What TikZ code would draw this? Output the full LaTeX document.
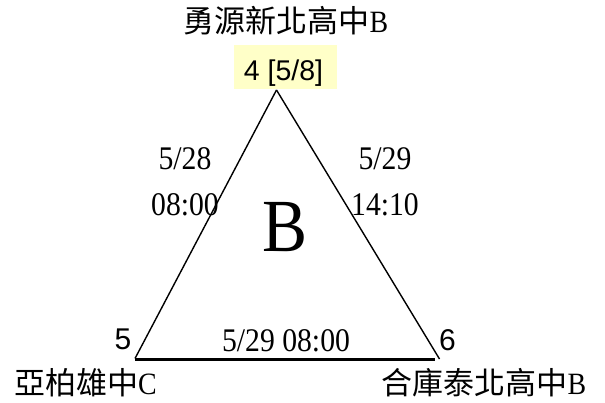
\documentclass[tikz,border=0pt]{standalone}
\usepackage{fontspec}
\setmainfont{Liberation Serif}[FakeStretch=0.9]
\newfontfamily\cjk{Noto Sans CJK TC}
\newfontfamily\sansf{Liberation Sans}
\definecolor{hiyellow}{RGB}{255,255,200}
\tikzset{
  lbl/.style={inner sep=0pt, anchor=base, font=\fontsize{33}{33}\selectfont},
  num/.style={inner sep=0pt, anchor=base, font=\sansf\fontsize{30}{30}\selectfont},
  team/.style={inner sep=0pt, anchor=base, font=\fontsize{31}{31}\selectfont},
  side/.style={line width=1.4pt},
  baseline/.style={line width=3pt},
}
\begin{document}
\begin{tikzpicture}[x=1pt,y=-1pt]
\useasboundingbox (0,0) rectangle (605,403);
% vertices
\coordinate (A) at (276.5,90);
\coordinate (L) at (135,358.5);
\coordinate (R) at (439.5,359);
\coordinate (BL) at (135,359);
\coordinate (BR) at (435,359);
% highlight box
\node[fill=hiyellow, inner sep=0pt, minimum width=103pt, minimum height=44pt] (hbox) at (285.5,67) {};
\node[inner sep=0pt, anchor=base, font=\sansf\fontsize{28.5}{28.5}\selectfont] (apexnum) at (283.5,81) {4 [5/8]};
% triangle
\draw[side] (A) -- (L);
\draw[side] (A) -- (R);
\draw[baseline] (BL) -- (BR);
% labels
\node[team] (top) at (286,33) {{\cjk 勇源新北高中}B};
\node[team] (bl) at (85.5,394) {{\cjk 亞柏雄中}C};
\node[team] (br) at (484,394) {{\cjk 合庫泰北高中}B};
\node[lbl] (d1) at (185,170) {5/28};
\node[lbl] (t1) at (185,216) {08:00};
\node[lbl] (d2) at (385,170) {5/29};
\node[lbl] (t2) at (385,216) {14:10};
\node[lbl] (d3) at (286,352) {5/29 08:00};
\node[inner sep=0pt, anchor=base, font=\fontsize{75}{75}\selectfont] (grp) at (285,252) {B};
\node[num] (n5) at (123,349) {5};
\node[num] (n6) at (447.5,350) {6};
\end{tikzpicture}
\end{document}
